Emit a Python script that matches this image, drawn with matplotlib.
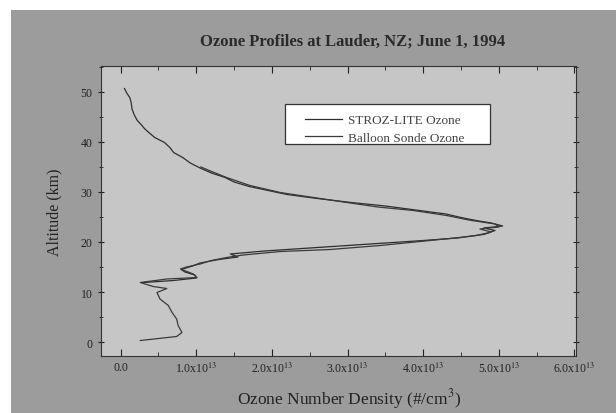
import matplotlib
matplotlib.use("Agg")
import matplotlib.pyplot as plt
from matplotlib.ticker import MultipleLocator, FuncFormatter
import numpy as np

plt.rcParams['font.family'] = ['Liberation Serif', 'DejaVu Serif']
plt.rcParams['mathtext.fontset'] = 'stix'

# balloon sonde profile (density in units of 1e13 #/cm^3, altitude km)
sonde_alt = [0.3, 1.1, 1.9, 3.3, 4.6, 5.9, 7.3, 8.6, 9.9, 10.7, 11.1, 11.9, 12.6, 12.9,
             13.6, 14.6, 15.0, 15.6, 16.3, 16.9, 17.4, 18.1, 18.5, 19.3, 20.3, 20.9,
             21.5, 22.0, 22.6, 23.0, 23.6, 24.4, 25.3, 26.3, 27.0, 27.9, 28.9, 29.9,
             31.3, 32.9, 34.0, 35.0]
sonde_dens = [0.26, 0.74, 0.81, 0.76, 0.74, 0.68, 0.63, 0.52, 0.48, 0.61, 0.43, 0.26,
              0.61, 1.01, 0.96, 0.79, 0.87, 1.05, 1.20, 1.40, 1.62, 2.11, 2.77, 3.43,
              4.09, 4.48, 4.80, 4.90, 4.75, 5.00, 4.95, 4.60, 4.31, 3.87, 3.40, 2.99,
              2.55, 2.11, 1.71, 1.40, 1.22, 1.06]

# STROZ-LITE lidar profile
lidar_alt = [11.9, 12.3, 12.8, 13.4, 14.0, 14.5, 15.2, 15.8, 16.5, 17.0, 17.6, 18.2,
             18.9, 19.6, 20.3, 20.8, 21.3, 21.8, 22.3, 22.8, 23.2, 23.8, 24.3, 24.9,
             25.6, 26.4, 27.2, 27.9, 28.7, 29.5, 30.3, 31.1, 32.0, 32.9, 33.8, 34.8,
             35.8, 36.9, 37.9, 38.9, 39.9, 40.9, 41.8, 42.6, 43.5, 44.3, 45.4, 46.6,
             47.8, 48.9, 49.8, 50.7]
lidar_dens = [0.30, 0.70, 1.00, 0.98, 0.85, 0.80, 0.95, 1.05, 1.30, 1.55, 1.45, 1.90,
              2.60, 3.30, 4.00, 4.45, 4.70, 4.85, 4.95, 4.80, 5.05, 4.90, 4.70, 4.50,
              4.30, 3.90, 3.50, 3.05, 2.60, 2.20, 1.95, 1.70, 1.50, 1.38, 1.20, 1.05,
              0.92, 0.82, 0.70, 0.65, 0.58, 0.45, 0.38, 0.32, 0.27, 0.22, 0.18, 0.15,
              0.14, 0.12, 0.08, 0.05]

labels = ["STROZ-LITE Ozone", "Balloon Sonde Ozone"]

fig = plt.figure(figsize=(6.16, 4.14), dpi=100)
fig.patch.set_facecolor('white')
# gray panel behind the plot
fig.patches.append(plt.Rectangle((11/616, 0), 1, 1 - 11/414, transform=fig.transFigure,
                                 facecolor='#9c9c9c', edgecolor='none', zorder=-10))

ax = fig.add_axes([101/616, 1 - 357/414, 475/616, 290/414])
ax.set_facecolor('#c6c6c6')

ax.plot(np.array(lidar_dens) * 1e13, lidar_alt, color='#2e2e2e', lw=0.9, label=labels[0])
ax.plot(np.array(sonde_dens) * 1e13, sonde_alt, color='#3a3a3a', lw=0.9, label=labels[1])

ax.set_xlim(-0.26e13, 6.02e13)
ax.set_ylim(-2.8, 55.2)

ax.xaxis.set_major_locator(MultipleLocator(1e13))
ax.xaxis.set_minor_locator(MultipleLocator(0.5e13))
ax.yaxis.set_major_locator(MultipleLocator(10))
ax.yaxis.set_minor_locator(MultipleLocator(5))

def fmt(v, pos):
    n = v / 1e13
    if abs(n) < 1e-6:
        return "0.0"
    return r"%.1fx10$^{13}$" % n

ax.xaxis.set_major_formatter(FuncFormatter(fmt))
ax.tick_params(which='both', direction='in', top=True, right=True, labelsize=8.5,
               colors='#222222')
ax.tick_params(which='major', length=5)
ax.tick_params(which='minor', length=3)
ax.tick_params(axis='y', which='both', direction='inout', left=True)

for s in ax.spines.values():
    s.set_color('#333333')

ax.set_xlabel("Ozone Number Density (#/cm$^3$)", fontsize=12.5, color='#222222')
ax.xaxis.set_label_coords(0.523, -0.104)
ax.set_ylabel("Altitude (km)", fontsize=11.5, labelpad=13, color='#222222')
fig.text(353/616, 1 - 42/414, "Ozone Profiles at Lauder, NZ; June 1, 1994",
         ha='center', va='center', fontsize=12, fontweight='bold', color='#2a2a2a')

# legend frame (drawn separately so it can be wider than its contents)
ax.add_patch(plt.Rectangle((0.387, 0.731), 0.432, 0.138, transform=ax.transAxes,
                           facecolor='white', edgecolor='#333333', lw=0.9, zorder=4))
leg = ax.legend(loc='center left', bbox_to_anchor=(0.429, 0.783), fontsize=9.5,
                frameon=False, handlelength=2.8, borderpad=0, labelspacing=0.38,
                handletextpad=0.45, borderaxespad=0)
leg.set_zorder(5)
for t in leg.get_texts():
    t.set_color('#444444')

fig.savefig("out.png", dpi=100)
